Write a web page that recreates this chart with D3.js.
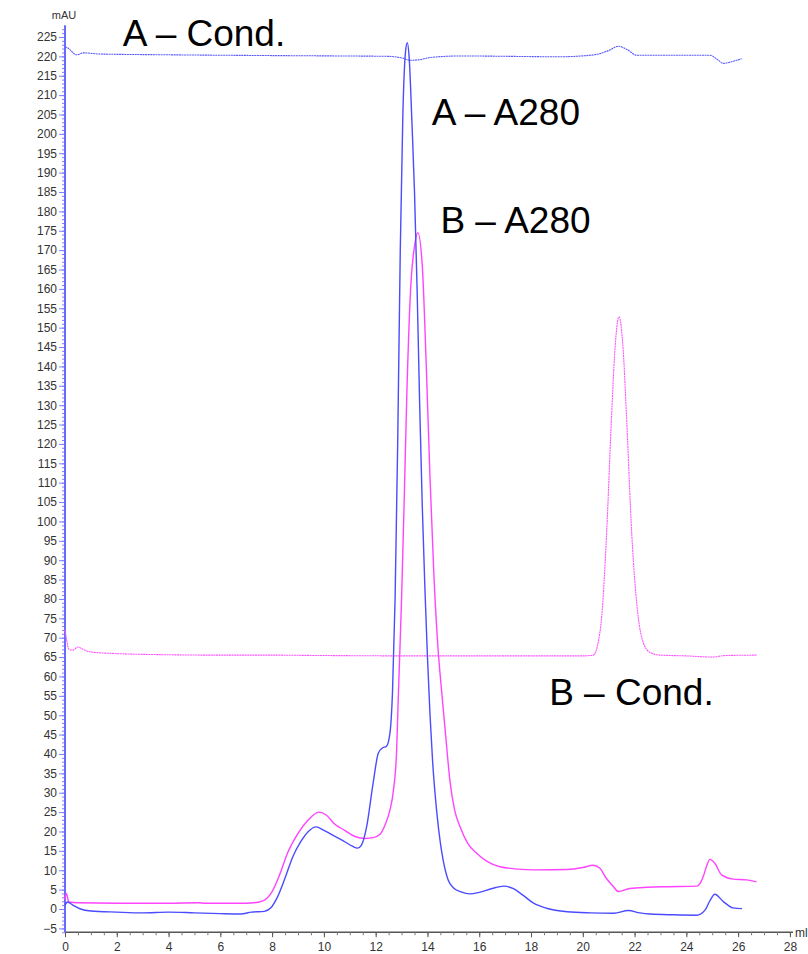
<!DOCTYPE html>
<html>
<head>
<meta charset="utf-8">
<script src="https://cdn.jsdelivr.net/npm/d3@7"></script>
<style>
  html, body { margin: 0; padding: 0; background: #fff; }
  svg { display: block; font-family: "Liberation Sans", Arial, sans-serif; }
</style>
</head>
<body>
<svg id="chart" width="808" height="954"></svg>
<script>
// ---------- DATA ----------
const blueA280 = [
  [0.0,1.0],[0.1,1.8],[0.3,1.0],[0.6,0.0],[1.0,-0.5],[2.0,-0.8],[3.0,-1.0],[4.0,-0.8],
  [5.0,-1.0],[6.0,-1.2],[6.8,-1.3],[7.2,-0.8],[7.7,-0.6],[7.95,0.3],[8.2,3],[8.5,8],
  [8.8,13.5],[9.1,17.3],[9.4,20],[9.7,21.2],[10.0,20.3],[10.3,19.2],[10.75,17.6],[11.1,16.2],
  [11.3,15.7],[11.45,16.5],[11.65,21.2],[11.9,32.4],[12.1,40.2],[12.25,41.5],[12.42,42],
  [12.55,45.3],[12.65,56],[12.75,80],[12.85,120],[12.95,170],[13.05,205],[13.15,221],
  [13.22,223.5],[13.3,219],[13.4,203],[13.5,185],[13.6,160],[13.7,130],[13.8,104],[13.9,83],
  [14.0,65],[14.1,50],[14.2,38],[14.36,25],[14.5,17],[14.61,12.5],[14.8,7.5],[15.0,5.5],
  [15.3,4.4],[15.64,3.9],[16.0,4.3],[16.5,5.3],[16.95,5.9],[17.3,5.3],[17.7,3.5],[18.1,1.5],
  [18.6,0.2],[19.4,-0.7],[20.3,-1.0],[21.2,-1.1],[21.76,-0.4],[22.2,-1.0],[22.6,-1.3],
  [23.5,-1.5],[24.4,-1.6],[24.72,-0.3],[24.9,2.0],[25.1,3.8],[25.43,1.9],[25.8,0.3],[26.15,0.1]
];
const pinkA280 = [
  [0.0,2.5],[0.05,4],[0.15,1.8],[0.5,1.6],[2,1.5],[4,1.5],[5.2,1.6],[5.4,1.5],[7,1.5],
  [7.5,1.8],[7.8,2.8],[8.0,4.5],[8.3,9],[8.6,14.5],[9.0,19.5],[9.4,23],[9.8,25],[10.1,24.2],
  [10.4,22],[10.8,20.3],[11.2,18.7],[11.6,18.2],[11.9,18.4],[12.17,19.3],[12.35,21.5],
  [12.55,25.5],[12.68,30.3],[12.81,41],[12.87,53.9],[13.0,80],[13.1,105],[13.2,132],
  [13.35,160],[13.5,171],[13.63,174.5],[13.8,166],[13.95,141],[14.1,111],[14.25,86],
  [14.4,68],[14.55,56],[14.7,45],[14.87,33],[15.05,25.5],[15.26,21.2],
  [15.55,17],[15.9,14.4],[16.3,12.3],[16.8,10.9],[17.5,10.3],[18.1,10.1],[19.4,10.2],
  [20.0,10.7],[20.4,11.3],[20.66,10.5],[20.9,8],[21.18,5.8],[21.37,4.5],[21.82,5.3],
  [22.5,5.6],[23.24,5.75],[24.4,5.9],[24.55,6.8],[24.65,8.3],[24.78,11],[24.91,12.8],
  [25.1,11.8],[25.36,8.8],[25.81,7.7],[26.33,7.5],[26.71,7.0]
];
const blueCond = [
  [0.0,222.5],[0.1,222.2],[0.45,220.4],[0.7,220.9],[1.35,220.6],[4,220.4],[8,220.2],
  [10.6,220.1],[12.5,220.0],[13.07,219.5],[13.33,219.0],[13.65,219.1],[14.1,219.7],
  [15.26,220.1],[19.1,219.9],[20.3,220.3],[20.66,220.7],[21.0,221.5],[21.37,222.6],
  [21.7,221.8],[22.08,220.3],[24.91,220.3],[25.2,219.2],[25.43,218.2],[25.8,218.7],[26.14,219.4]
];
const pinkCond = [
  [0.0,72],[0.05,70],[0.15,67],[0.3,66.8],[0.5,67.6],[0.7,67],[1.0,66.3],[2.0,65.9],
  [4.0,65.6],[6.0,65.5],[8.0,65.5],[10,65.4],[14,65.3],[18,65.3],[20.0,65.3],[20.4,65.5],
  [20.6,69],[20.73,75.4],[20.92,96.9],[21.11,127],[21.24,144.2],[21.4,152.8],[21.56,144.2],
  [21.69,127],[21.89,96.9],[22.14,75.4],[22.35,68.5],[22.6,66.2],[22.98,65.5],[24,65.3],
  [25.0,65.0],[25.5,65.4],[26.71,65.5]
];
const xTicks = [0,2,4,6,8,10,12,14,16,18,20,22,24,26,28];
const yTicks = d3.range(-5, 226, 5);
const labels = [
  {text: "A \u2013 Cond.", x: 2.23, y: 222.6},
  {text: "A \u2013 A280", x: 14.17, y: 202.3},
  {text: "B \u2013 A280", x: 14.5, y: 174.5},
  {text: "B \u2013 Cond.", x: 18.7, y: 52.6}
];

// ---------- SCALES ----------
const svg = d3.select("#chart");
const x = d3.scaleLinear().domain([0, 28.1]).range([65, 792.5]);
const y = d3.scaleLinear().domain([-6, 228]).range([932.25, 25.35]);

// ---------- AXES ----------
const xAxisG = svg.append("g").attr("transform", `translate(0,${y(-6)})`);
xAxisG.call(d3.axisBottom(x).tickValues(d3.range(0, 28.01, 0.5)).tickSize(3).tickFormat(""));
xAxisG.selectAll(".tick line").attr("stroke", "#777");
xAxisG.select(".domain").attr("stroke", "#555").attr("stroke-width", 1.5).attr("d", "M65,0H793");
const xMaj = svg.append("g").attr("transform", `translate(0,${y(-6)})`);
xMaj.call(d3.axisBottom(x).tickValues(xTicks).tickSize(5).tickFormat(d3.format("d")));
xMaj.select(".domain").remove();
xMaj.selectAll(".tick line").attr("stroke", "#555");
xMaj.selectAll(".tick text").attr("font-size", 12).attr("fill", "#333").attr("dy", "0.9em")
  .attr("font-family", "Liberation Sans, Arial, sans-serif");
svg.append("text").attr("x", 795).attr("y", 937).attr("font-size", 12).attr("fill", "#333").text("ml");

const yMinor = svg.append("g").attr("transform", `translate(${x(0)},0)`);
yMinor.call(d3.axisLeft(y).tickValues(d3.range(-6, 228, 1)).tickSize(3).tickFormat(""));
yMinor.select(".domain").remove();
yMinor.selectAll(".tick line").attr("stroke", "#8080ff");
const yMaj = svg.append("g").attr("transform", `translate(${x(0)},0)`);
yMaj.call(d3.axisLeft(y).tickValues(yTicks).tickSize(6).tickPadding(2).tickFormat(d3.format("d")));
yMaj.select(".domain").remove();
yMaj.selectAll(".tick line").attr("stroke", "#8080ff");
yMaj.selectAll(".tick text").attr("font-size", 12).attr("fill", "#333")
  .attr("font-family", "Liberation Sans, Arial, sans-serif");
svg.append("line").attr("x1", x(0)).attr("x2", x(0)).attr("y1", y(-6)).attr("y2", y(228))
  .attr("stroke", "#6a6aff").attr("stroke-width", 2);
svg.append("text").attr("x", 64).attr("y", 19).attr("text-anchor", "middle")
  .attr("font-size", 11).attr("fill", "#333").text("mAU");

// ---------- LINES ----------
const line = d3.line().x(d => x(d[0])).y(d => y(d[1])).curve(d3.curveMonotoneX);
svg.append("path").datum(pinkCond).attr("d", line).attr("fill", "none")
  .attr("stroke", "#ff55ff").attr("stroke-width", 1.1).attr("stroke-dasharray", "2,0.6");
svg.append("path").datum(blueCond).attr("d", line).attr("fill", "none")
  .attr("stroke", "#5a5aff").attr("stroke-width", 1.1).attr("stroke-dasharray", "2,0.6");
svg.append("path").datum(pinkA280).attr("d", line).attr("fill", "none")
  .attr("stroke", "#ff44ff").attr("stroke-width", 1.4);
svg.append("path").datum(blueA280).attr("d", line).attr("fill", "none")
  .attr("stroke", "#4b4bff").attr("stroke-width", 1.4);

// ---------- LABELS ----------
svg.selectAll("text.lbl").data(labels).enter().append("text").attr("class", "lbl")
  .attr("x", d => x(d.x)).attr("y", d => y(d.y))
  .attr("font-size", 37).attr("fill", "#000")
  .attr("font-family", "Liberation Sans, Arial, sans-serif")
  .text(d => d.text);
</script>
</body>
</html>
